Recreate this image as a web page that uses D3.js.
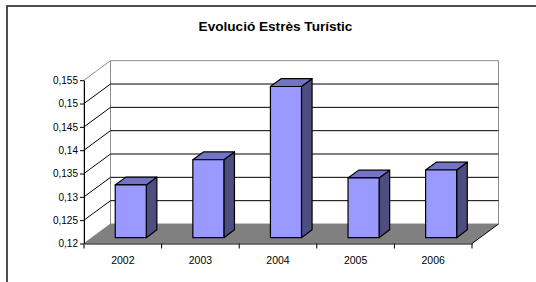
<!DOCTYPE html>
<html>
<head>
<meta charset="utf-8">
<script src="https://cdn.jsdelivr.net/npm/d3@7"></script>
<style>
  body { margin: 0; background: #fff; }
  svg text { font-family: "Liberation Sans", Arial, sans-serif; fill: #000; }
</style>
</head>
<body>
<div id="chart"></div>
<script>
(function () {

  // data
  const years = ["2002", "2003", "2004", "2005", "2006"]
  const stress = [0.1313, 0.1367, 0.1524, 0.1328, 0.1345]
  const yTicks = [0.12, 0.125, 0.13, 0.135, 0.14, 0.145, 0.15, 0.155]
  const title = "Evolució Estrès Turístic"

  const width = 536
  const height = 282

  // depth offset of the 3d box (back plane vs front plane)
  const DX = 26.5
  const DY = 19.5

  const svg = d3.select("#chart").append("svg")
      .attr("width", width)
      .attr("height", height)

  svg.append("rect")
    .attr("x", 7).attr("y", 6)
    .attr("width", 600).attr("height", 400)
    .attr("fill", "#fff")
    .attr("stroke", "#222")
    .attr("stroke-width", 1.6)

  svg.append("text")
    .attr("x", 275.5)
    .attr("y", 30.5)
    .attr("text-anchor", "middle")
    .style("font-size", "13.6px")
    .style("font-weight", "bold")
    .text(title)

  const xPositionScale = d3.scaleBand()
    .domain(years)
    .range([84, 472])

  const yPositionScale = d3.scaleLinear()
    .domain([d3.min(yTicks), d3.max(yTicks)])
    .range([243.5, 80.2])

  const yBase = d3.min(yTicks)
  const yTop = d3.max(yTicks)
  const [xLeft, xRight] = xPositionScale.range()

  // x on front plane, value, depth 0..1 -> screen point
  function proj (px, v, z) {
    return [px + z * DX, yPositionScale(v) - z * DY]
  }
  const line = d3.line()

  // back wall
  const wallBack = [proj(xLeft, yBase, 1), proj(xRight, yBase, 1), proj(xRight, yTop, 1), proj(xLeft, yTop, 1)]
  svg.append("path")
    .attr("d", line(wallBack) + "Z")
    .attr("fill", "#fff")
    .attr("stroke", "#8c8c8c")

  // left side wall
  const wallSide = [proj(xLeft, yBase, 0), proj(xLeft, yBase, 1), proj(xLeft, yTop, 1), proj(xLeft, yTop, 0)]
  svg.append("path")
    .attr("d", line(wallSide) + "Z")
    .attr("fill", "#fff")
    .attr("stroke", "#8c8c8c")

  const inner = yTicks.filter(t => t > yBase && t < yTop)

  svg.selectAll(".grid-back")
    .data(inner)
    .join("path")
    .attr("class", "grid-back")
    .attr("d", t => line([proj(xLeft, t, 1), proj(xRight, t, 1)]))
    .attr("stroke", "#000")

  svg.selectAll(".grid-side")
    .data(inner)
    .join("path")
    .attr("class", "grid-side")
    .attr("d", t => line([proj(xLeft, t, 0), proj(xLeft, t, 1)]))
    .attr("stroke", "#000")

  // floor
  const floor = [proj(xLeft, yBase, 0), proj(xRight, yBase, 0), proj(xRight, yBase, 1), proj(xLeft, yBase, 1)]
  svg.append("path")
    .attr("d", line(floor) + "Z")
    .attr("fill", "#808080")
    .attr("stroke", "none")
  svg.append("path")
    .attr("d", line([proj(xRight, yBase, 0), proj(xRight, yBase, 1)]))
    .attr("stroke", "#000")

  // bars
  const bw = xPositionScale.bandwidth()
  const z0 = 0.3
  const z1 = 0.7
  const bars = svg.selectAll(".bar")
    .data(years.map((y, i) => ({ year: y, value: stress[i] })))
    .join("g")
    .attr("class", "bar")

  const x0 = d => xPositionScale(d.year) + bw * 0.3
  const x1 = d => xPositionScale(d.year) + bw * 0.7

  bars.append("path")
    .attr("d", d => line([proj(x1(d), yBase, z0), proj(x1(d), d.value, z0), proj(x1(d), d.value, z1), proj(x1(d), yBase, z1)]) + "Z")
    .attr("fill", "#4d4d80")
    .attr("stroke", "#000")
    .attr("stroke-width", 1.2)
    .attr("stroke-linejoin", "round")

  bars.append("path")
    .attr("d", d => line([proj(x0(d), d.value, z0), proj(x1(d), d.value, z0), proj(x1(d), d.value, z1), proj(x0(d), d.value, z1)]) + "Z")
    .attr("fill", "#7373c8")
    .attr("stroke", "#000")
    .attr("stroke-width", 1.2)
    .attr("stroke-linejoin", "round")

  bars.append("path")
    .attr("d", d => line([proj(x0(d), yBase, z0), proj(x1(d), yBase, z0), proj(x1(d), d.value, z0), proj(x0(d), d.value, z0)]) + "Z")
    .attr("fill", "#9999ff")
    .attr("stroke", "#000")
    .attr("stroke-width", 1.2)
    .attr("stroke-linejoin", "round")

  // axes
  const comma = d3.formatLocale({ decimal: ",", thousands: ".", grouping: [3], currency: ["", "€"] })

  const yAxis = d3.axisLeft(yPositionScale)
    .tickValues(yTicks)
    .tickSize(4)
    .tickSizeOuter(0)
    .tickPadding(2)
    .tickFormat(comma.format(".3~f"))
  const yg = svg.append("g")
    .attr("class", "axis y-axis")
    .attr("transform", "translate(" + xLeft + ",0)")
    .call(yAxis)
  yg.selectAll("text").style("font-size", "10px").attr("fill", "#000")
  yg.selectAll("line, path").attr("stroke", "#000")

  const xAxis = d3.axisBottom(xPositionScale)
    .tickSize(0)
    .tickPadding(13)
  const xg = svg.append("g")
    .attr("class", "axis x-axis")
    .attr("transform", "translate(0," + yPositionScale(yBase) + ")")
    .call(xAxis)
  xg.selectAll("text").style("font-size", "10.5px").attr("fill", "#000")
  xg.select(".domain").attr("stroke", "#000")

  const bounds = years.map(y => xPositionScale(y)).concat([xRight])
  xg.selectAll(".bound")
    .data(bounds)
    .join("line")
    .attr("class", "bound")
    .attr("x1", d => d).attr("x2", d => d)
    .attr("y1", 0).attr("y2", 5)
    .attr("stroke", "#000")

})();
</script>
</body>
</html>
